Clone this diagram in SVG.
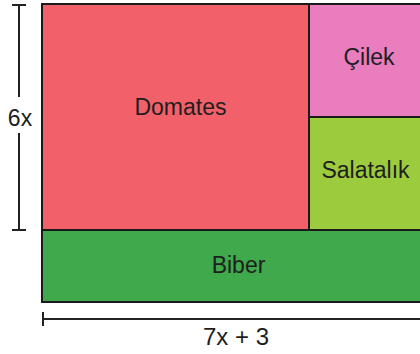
<svg xmlns="http://www.w3.org/2000/svg" width="420" height="354" viewBox="0 0 420 354">
<style>
.r{stroke:#1a1a1a;stroke-width:2}
.t{font-family:"Liberation Sans",Arial,sans-serif;font-size:23px;fill:#1e1e1e;text-anchor:middle}
.d{stroke:#222;stroke-width:2;fill:none}
</style>
<rect width="420" height="354" fill="#fff"/>
<g id="domates"><rect class="r" x="42" y="4" width="267" height="226" fill="#F2616A"/><text class="t" x="180.5" y="115">Domates</text></g>
<g id="cilek"><rect class="r" x="309" y="4" width="116" height="113" fill="#E97DBE"/><text class="t" x="369" y="65">Çilek</text></g>
<g id="salatalik"><rect class="r" x="309" y="117" width="116" height="113" fill="#9CCB3E"/><text class="t" x="365.5" y="178">Salatalık</text></g>
<g id="biber"><rect class="r" x="42" y="230" width="383" height="72" fill="#3FA94B"/><text class="t" x="238.5" y="273">Biber</text></g>
<g id="connectors">
<path class="d" d="M19 5V97M19 133V230M12 5H26M12 230H26"/>
<path class="d" d="M43 319H425M43 312V326"/>
</g>
<g id="labels">
<text class="t" x="20" y="125.5">6x</text>
<text class="t" x="236" y="345" style="font-size:24px">7x + 3</text>
</g>
</svg>
